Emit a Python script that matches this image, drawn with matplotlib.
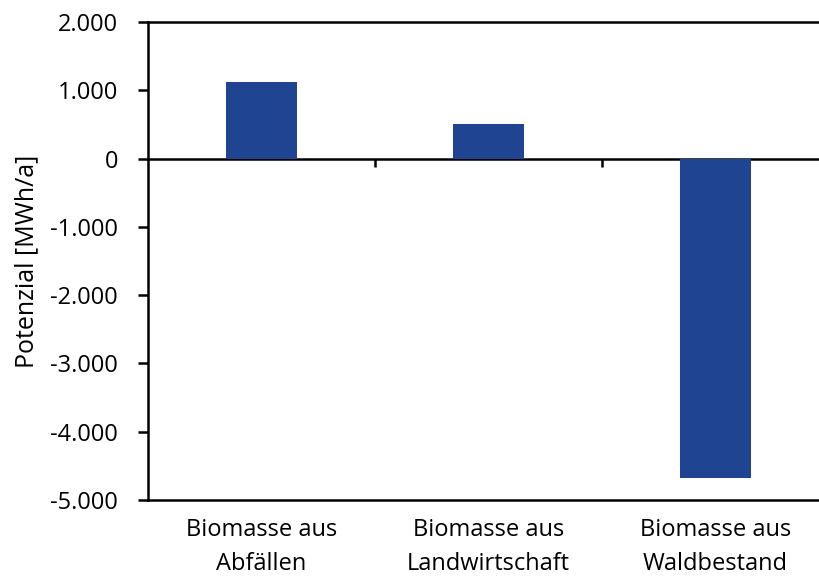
import matplotlib
matplotlib.use("Agg")
import matplotlib.pyplot as plt
from matplotlib.ticker import FuncFormatter, FixedLocator

categories = ["Biomasse aus\nAbfällen", "Biomasse aus\nLandwirtschaft", "Biomasse aus\nWaldbestand"]
values = [1120, 510, -4680]
yticks = [-5000, -4000, -3000, -2000, -1000, 0, 1000, 2000]
ylabel = "Potenzial [MWh/a]"

plt.rcParams['font.family'] = ['Open Sans', 'DejaVu Sans']

W, H = 819, 578
fig = plt.figure(figsize=(W/100, H/100), dpi=100)
ax = fig.add_axes([148/W, (H-500)/H, 681/W, 478/H])

x = list(range(len(categories)))
ax.bar(x, values, width=0.31, color="#1F4592", zorder=2)

ymin, ymax = -5000, 2000
ax.set_ylim(ymin, ymax)
ax.set_xlim(-0.5, len(categories) - 0.5)
ax.set_yticks(yticks)

def fmt(v, pos):
    return f"{int(round(v)):,}".replace(",", ".")
ax.yaxis.set_major_formatter(FuncFormatter(fmt))

lw = 1.8
ax.set_xticks(x)
ax.set_xticklabels(categories, fontsize=17, linespacing=1.55)
ax.tick_params(axis='x', length=0, pad=13)
ax.tick_params(axis='y', labelsize=17, length=7.5, width=lw, pad=14, direction='out')

for s in ['left', 'top', 'bottom']:
    ax.spines[s].set_linewidth(lw)
ax.spines['right'].set_visible(False)

ax.set_ylabel(ylabel, fontsize=18, labelpad=8)

# zero line with category boundary ticks
zero_pos = (0 - ymin) / (ymax - ymin)
sec = ax.secondary_xaxis(zero_pos)
sec.xaxis.set_ticks_position('bottom')
sec.xaxis.set_major_locator(FixedLocator([i + 0.5 for i in x[:-1]]))
sec.set_xticklabels([])
sec.tick_params(axis='x', direction='out', length=6, width=lw)
for s in sec.spines.values():
    s.set_linewidth(lw)

fig.savefig("out.png", dpi=100)
